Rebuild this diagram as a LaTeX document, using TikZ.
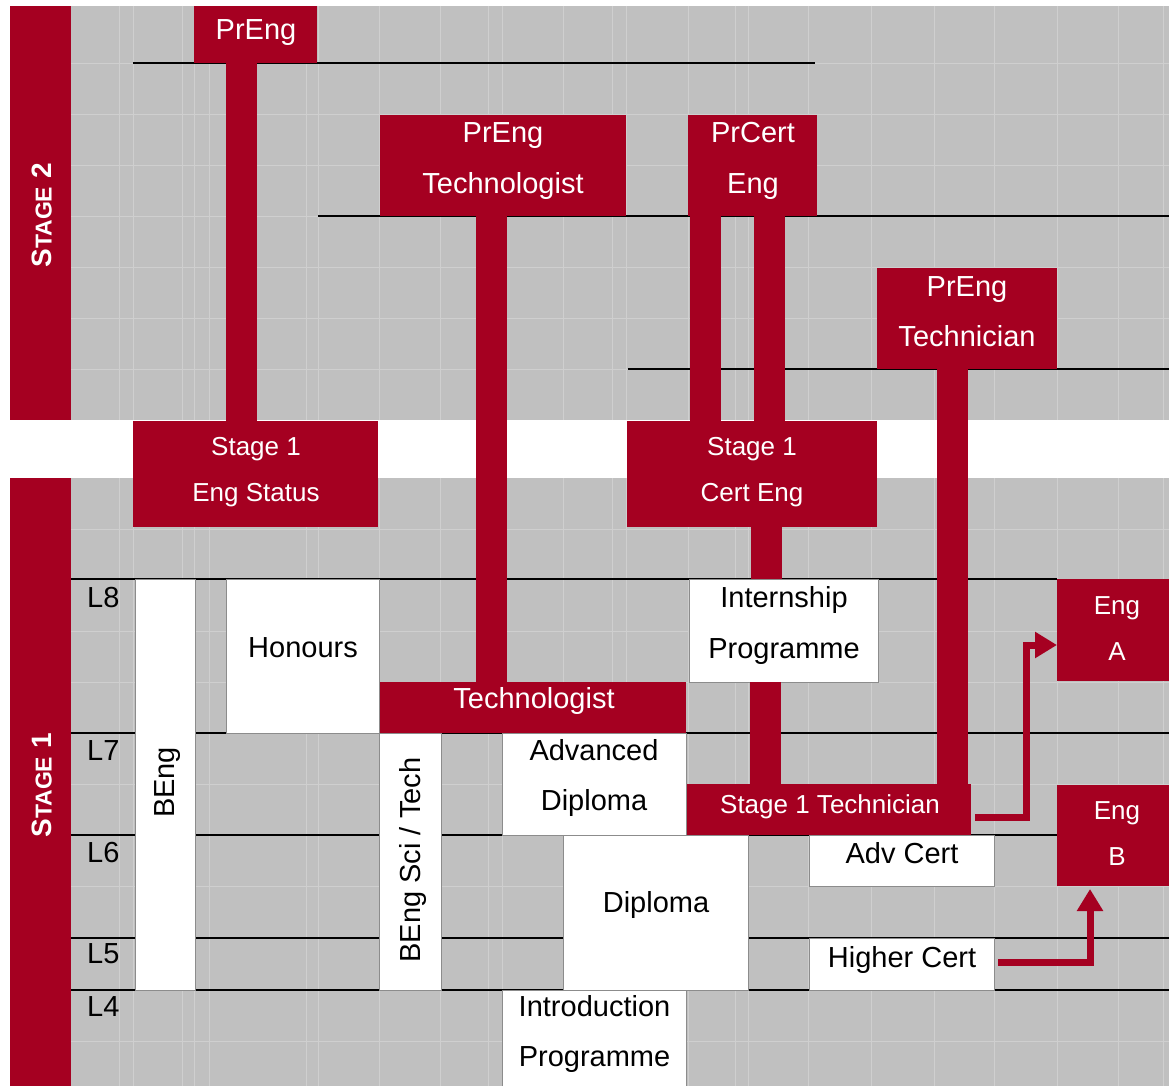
\documentclass[tikz,border=0pt]{standalone}
\usepackage{fontspec}
\setmainfont{Liberation Sans}
\usetikzlibrary{calc,arrows.meta}
\definecolor{cred}{HTML}{A50021}
\definecolor{cgrey}{HTML}{C0C0C0}
\definecolor{cfaint}{HTML}{CFCFCF}
\definecolor{cborder}{HTML}{8C8C8C}
\newcommand\mkbox[6]{\node[#1, anchor=north west, minimum width={#5-#3}, minimum height={#6-#4}] (#2) at (#3,#4) {};}
\newcommand\lineat[5]{\node[#1] (#2) at (#3,#4) {#5};}
\begin{document}
\begin{tikzpicture}[x=1pt,y=-1pt,
  redbox/.style={fill=cred, draw=none, inner sep=0pt, outer sep=0pt},
  whitebox/.style={fill=white, draw=cborder, line width=0.8pt, inner sep=0pt, outer sep=0pt},
  bar/.style={draw=cred, line width=31pt},
  arr/.style={draw=cred, line width=7pt, -{Triangle[length=22pt,width=25pt]}},
  lvl/.style={draw=black, line width=2.2pt},
  faint/.style={draw=cfaint, line width=0.7pt},
  big/.style={font=\fontsize{29}{34}\selectfont, text height=20.8pt, text depth=0pt, inner sep=0pt},
  small/.style={font=\fontsize{26}{30}\selectfont, text height=18.6pt, text depth=0pt, inner sep=0pt},
  stagelbl/.style={font=\bfseries\fontsize{28}{32}\selectfont, text height=20pt, text depth=0pt, inner sep=0pt, white, rotate=90},
  bw/.style={big, white}, bk/.style={big, black}, sw/.style={small, white}
]
\useasboundingbox (0,0) rectangle (1169,1086);
% background
\fill[white] (0,0) rectangle (1169,1086);
\fill[cgrey] (71,6) rectangle (1169,420);
\fill[cgrey] (71,478) rectangle (1169,1086);
% faint table grid
\foreach \yy in {63,114,165,216,267,318,369}{\draw[faint] (71,\yy) -- (1169,\yy);}
\foreach \yy in {529,579,631,682,733,784,835,886,938,990,1041}{\draw[faint] (71,\yy) -- (1169,\yy);}
\foreach \xx in {119,133,182,194,209,306,318,379,440,488,502,563,612,626,688,735,748,808,871,934,994,1057,1118,1163}{
  \draw[faint] (\xx,6) -- (\xx,420);
  \draw[faint] (\xx,478) -- (\xx,1086);}
% level lines
\draw[lvl] (133,63) -- (815,63);
\draw[lvl] (318,216) -- (1169,216);
\draw[lvl] (628,369) -- (1169,369);
\draw[lvl] (71,579) -- (1057,579);
\draw[lvl] (71,733) -- (1169,733);
\draw[lvl] (71,835) -- (1057,835);
\draw[lvl] (71,938) -- (1169,938);
\draw[lvl] (71,990) -- (1169,990);
% stage bars
\mkbox{redbox}{st2}{10}{6}{71}{420}
\mkbox{redbox}{st1}{10}{478}{71}{1086}
% red boxes
\mkbox{redbox}{preng}{194}{6}{317}{63}
\mkbox{redbox}{prtech}{380}{115}{626}{216}
\mkbox{redbox}{prcert}{688}{115}{817}{216}
\mkbox{redbox}{prtechn}{877}{268}{1057}{369}
\mkbox{redbox}{s1eng}{133}{421}{378}{527}
\mkbox{redbox}{s1cert}{627}{421}{877}{527}
\mkbox{redbox}{techno}{379}{682}{686}{733}
\mkbox{redbox}{s1tech}{686}{784}{971}{835}
\mkbox{redbox}{engA}{1057}{579}{1169}{681}
\mkbox{redbox}{engB}{1057}{785}{1169}{886}
% white boxes
\mkbox{whitebox}{beng}{135}{579}{195}{990}
\mkbox{whitebox}{honours}{226}{579}{379}{733}
\mkbox{whitebox}{bsci}{379}{733}{441}{990}
\mkbox{whitebox}{advdip}{502}{733}{686}{835}
\mkbox{whitebox}{dip}{563}{835}{748}{990}
\mkbox{whitebox}{intro}{502}{990}{686}{1086}
\mkbox{whitebox}{intern}{689}{579}{878}{682}
\mkbox{whitebox}{advcert}{809}{835}{994}{886}
\mkbox{whitebox}{hcert}{809}{938}{994}{990}
% connector bars
\coordinate (xa) at (241.5,0);
\coordinate (xb) at (491.5,0);
\coordinate (xc) at (705.5,0);
\coordinate (xd) at (769,0);
\coordinate (xe) at (766.5,0);
\coordinate (xf) at (765.5,0);
\coordinate (xg) at (952,0);
\draw[bar] (preng.south -| xa) -- (s1eng.north -| xa);
\draw[bar] (prtech.south -| xb) -- (techno.north -| xb);
\draw[bar] (prcert.south -| xc) -- (s1cert.north -| xc);
\draw[bar] (prcert.south -| xd) -- (s1cert.north -| xd);
\draw[bar] (s1cert.south -| xe) -- (intern.north -| xe);
\draw[bar] (intern.south -| xf) -- (s1tech.north -| xf);
\draw[bar] (prtechn.south -| xg) -- (s1tech.north -| xg);
% arrows
\coordinate (aA) at (1026,645);
\draw[arr] ($(s1tech.east)+(4,7.5)$) -| (aA) -- (aA -| engA.west);
\coordinate (aB) at (1090,0);
\draw[arr, shorten >=3pt] ($(hcert.east)+(4,-2)$) -| (aB |- engB.south);
% stage labels
\node[stagelbl] (st2T) at (41.5,215.5) {S{\fontsize{23}{26}\selectfont TAGE} 2};
\node[stagelbl] (st1T) at (41.5,785.5) {S{\fontsize{23}{26}\selectfont TAGE} 1};
% texts
\lineat{bw}{prengT}{256}{29}{PrEng}
\lineat{bw}{prtechT1}{503}{132}{PrEng}
\lineat{bw}{prtechT2}{503}{183}{Technologist}
\lineat{bw}{prcertT1}{753}{132}{PrCert}
\lineat{bw}{prcertT2}{753}{183}{Eng}
\lineat{bw}{prtechnT1}{967}{286}{PrEng}
\lineat{bw}{prtechnT2}{967}{336}{Technician}
\lineat{sw}{s1engT1}{256}{446}{Stage 1}
\lineat{sw}{s1engT2}{256}{492}{Eng Status}
\lineat{sw}{s1certT1}{752}{446}{Stage 1}
\lineat{sw}{s1certT2}{752}{492}{Cert Eng}
\lineat{bk}{honoursT}{303}{647}{Honours}
\lineat{bw}{technoT}{534}{698}{Technologist}
\lineat{bk}{internT1}{784}{597}{Internship}
\lineat{bk}{internT2}{784}{648}{Programme}
\lineat{bk}{advdipT1}{594}{750}{Advanced}
\lineat{bk}{advdipT2}{594}{800}{Diploma}
\lineat{sw}{s1techT}{830}{804.5}{Stage 1 Technician}
\lineat{bk}{advcertT}{902}{853.5}{Adv Cert}
\lineat{bk}{dipT}{656}{902}{Diploma}
\lineat{bk}{hcertT}{902}{957}{Higher Cert}
\lineat{bk}{introT1}{594.5}{1006}{Introduction}
\lineat{bk}{introT2}{594.5}{1056}{Programme}
\lineat{sw}{engAT1}{1117}{605}{Eng}
\lineat{sw}{engAT2}{1117}{651}{A}
\lineat{sw}{engBT1}{1117}{810}{Eng}
\lineat{sw}{engBT2}{1117}{856}{B}
\node[bk, rotate=90] (bengT) at (164,782.5) {BEng};
\node[bk, rotate=90] (bsciT) at (410.5,860) {BEng Sci / Tech};
\node[bk, anchor=west] (L8) at (87,597.5) {L8};
\node[bk, anchor=west] (L7) at (87,750) {L7};
\node[bk, anchor=west] (L6) at (87,852) {L6};
\node[bk, anchor=west] (L5) at (87,953.5) {L5};
\node[bk, anchor=west] (L4) at (87,1006.5) {L4};
\end{tikzpicture}
\end{document}
